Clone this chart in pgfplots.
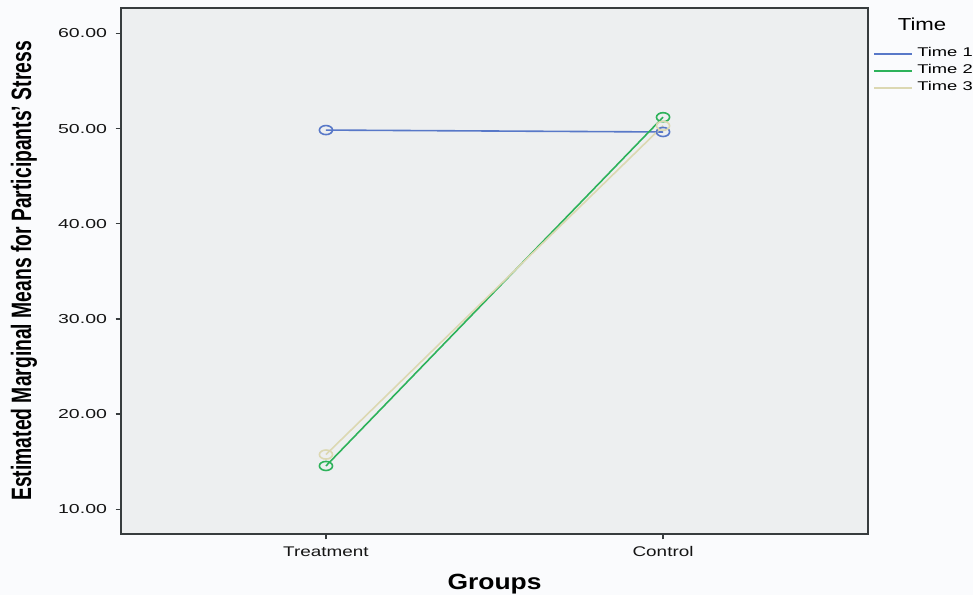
\documentclass[border=0pt]{standalone}
\usepackage{pgfplots}
\pgfplotsset{compat=1.18}
\usepackage{graphicx}
\usepackage{fontspec}
\setmainfont{Liberation Sans}
\definecolor{pagebg}{RGB}{250,251,253}
\definecolor{plotbg}{RGB}{237,239,240}
\definecolor{framec}{RGB}{55,60,62}
\definecolor{tone}{RGB}{88,120,200}
\definecolor{ttwo}{RGB}{45,178,90}
\definecolor{tthree}{RGB}{220,216,178}
\newcommand{\hs}[2][1.2]{\scalebox{#1}[1]{#2}}
\begin{document}
\begin{tikzpicture}[x=0.75pt,y=0.75pt]
\fill[pagebg] (0,0) rectangle (973,595);
\useasboundingbox (0,0) rectangle (973,595);
\begin{axis}[
  at={(90.75pt,45.75pt)}, anchor=south west,
  scale only axis, width=560.25pt, height=394.5pt,
  xmin=-0.608, xmax=1.608, ymin=7.40, ymax=62.68,
  axis background/.style={fill=plotbg},
  axis line style={framec, line width=1pt},
  tick style={framec, line width=1pt},
  tick align=outside, major tick length=4pt,
  xtick pos=bottom, ytick pos=left,
  xtick={0,1}, xticklabels={\hs[1.35]{Treatment},\hs[1.35]{Control}},
  ytick={10,20,...,60},
  yticklabel={\hs[1.5]{\pgfmathprintnumber[fixed,fixed zerofill,precision=2,assume math mode=true]{\tick}}},
  ticklabel style={text=black!92},
  yticklabel style={font=\fontsize{9.75}{11}\selectfont, xshift=-3pt},
  xticklabel style={font=\fontsize{10.5}{12}\selectfont, yshift=-2pt},
  xlabel={\hs[1.2]{Groups}}, xlabel style={font=\fontsize{16.5}{18}\selectfont\bfseries, yshift=-6pt},
  ylabel={\scalebox{0.69}[1]{Estimated Marginal Means for Participants' Stress}},
  ylabel style={font=\fontsize{21}{24}\selectfont\bfseries, yshift=9pt},
  legend style={at={(1.0067,0.925)}, anchor=north west, draw=none, fill=none,
    inner sep=0pt, font=\fontsize{9.5}{10}\selectfont, row sep=4pt, column sep=3pt,
    nodes={inner sep=0pt, text height=6.5pt, text depth=2.25pt},
    cells={anchor=west}},
  legend image code/.code={\draw[#1, mark=none, line width=1.5pt] (0pt,0pt) -- (28.5pt,0pt);},
  clip=false,
]
\addplot[tone, line width=1.2pt, mark=o, mark size=3.4pt, mark options={line width=1.2pt, xscale=1.45}]
  coordinates {(0,49.85) (1,49.65)};
\addplot[ttwo, line width=1.2pt, mark=o, mark size=3.4pt, mark options={line width=1.2pt, xscale=1.45}]
  coordinates {(0,14.55) (1,51.2)};
\addplot[tthree, line width=1.2pt, mark=o, mark size=3.4pt, mark options={line width=1.2pt, xscale=1.45}]
  coordinates {(0,15.75) (1,50.3)};
\legend{\hs[1.45]{Time 1},\hs[1.45]{Time 2},\hs[1.45]{Time 3}}
\node[font=\fontsize{13}{15}\selectfont, anchor=base] at (rel axis cs:1.0723,0.957) {\hs[1.28]{Time}};
\end{axis}
\end{tikzpicture}
\end{document}
